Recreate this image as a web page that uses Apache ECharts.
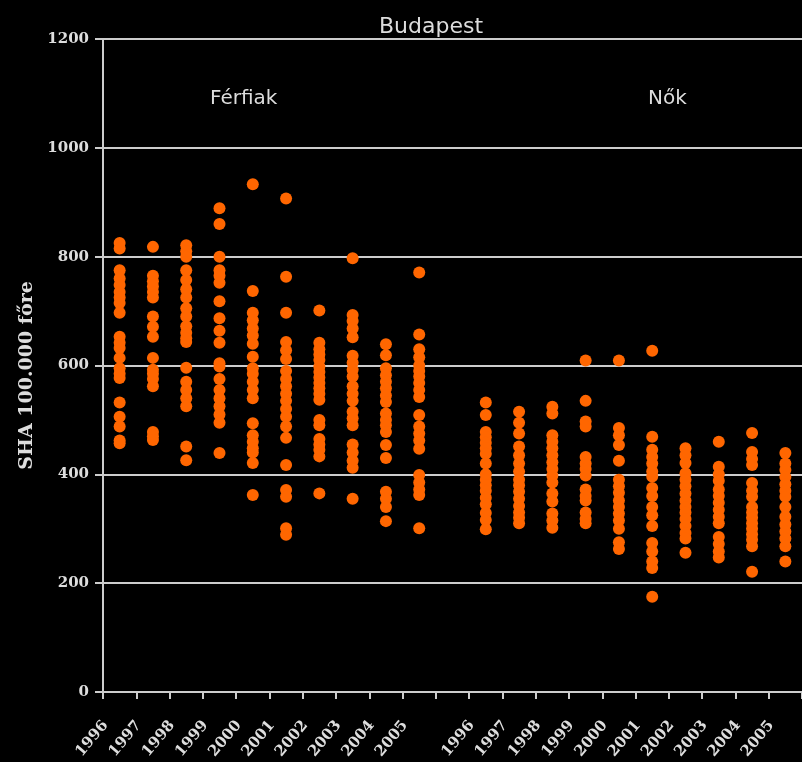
<!DOCTYPE html>
<html>
<head>
<meta charset="utf-8">
<script src="https://cdn.jsdelivr.net/npm/echarts@6/dist/echarts.min.js"></script>
<style>
  html, body { margin: 0; padding: 0; background: #000; }
  #main { width: 802px; height: 762px; }
</style>
</head>
<body>
<div id="main"></div>
<script>
// years on the axis: men block, an empty slot, women block
var years = ['1996', '1997', '1998', '1999', '2000', '2001', '2002', '2003', '2004', '2005'];
var categories = years.concat([''], years);
var yTicks = [0, 200, 400, 600, 800, 1000, 1200];

// Férfiak (men), one list per year, districts of Budapest
var men1996 = [825, 815, 775, 760, 748, 735, 725, 715, 697, 653, 642, 632, 614, 595, 585, 577, 532, 506, 488, 462, 457];
var men1997 = [818, 765, 755, 745, 735, 725, 690, 671, 653, 614, 592, 585, 575, 562, 478, 470, 463];
var men1998 = [821, 810, 800, 775, 757, 740, 725, 705, 690, 672, 660, 650, 643, 596, 570, 555, 540, 525, 451, 426];
var men1999 = [889, 860, 800, 775, 765, 752, 718, 687, 664, 642, 604, 598, 575, 555, 540, 525, 510, 495, 439];
var men2000 = [933, 737, 697, 683, 668, 655, 640, 616, 595, 585, 570, 555, 540, 494, 472, 460, 448, 440, 421, 362];
var men2001 = [907, 763, 697, 643, 628, 612, 590, 575, 562, 548, 535, 520, 506, 488, 467, 417, 371, 359, 301, 289];
var men2002 = [701, 642, 630, 620, 610, 598, 588, 578, 568, 558, 548, 537, 500, 490, 465, 455, 445, 433, 365];
var men2003 = [797, 693, 682, 668, 652, 618, 605, 592, 580, 562, 548, 535, 515, 503, 490, 455, 440, 425, 412, 355];
var men2004 = [639, 619, 595, 582, 570, 558, 545, 533, 512, 500, 490, 478, 454, 430, 368, 355, 340, 314];
var men2005 = [771, 657, 630, 615, 600, 590, 580, 568, 555, 542, 509, 488, 475, 462, 447, 399, 385, 372, 362, 301];

// Nők (women)
var women1996 = [532, 509, 478, 468, 458, 448, 438, 420, 400, 390, 380, 370, 357, 345, 329, 316, 299];
var women1997 = [515, 495, 475, 451, 435, 420, 405, 390, 380, 368, 355, 342, 330, 320, 310];
var women1998 = [524, 512, 472, 460, 448, 435, 422, 410, 398, 385, 365, 350, 328, 315, 302];
var women1999 = [609, 535, 497, 488, 432, 420, 410, 398, 372, 360, 352, 330, 318, 310];
var women2000 = [609, 485, 472, 454, 425, 390, 378, 366, 352, 340, 328, 315, 300, 275, 263];
var women2001 = [627, 469, 445, 432, 420, 405, 396, 375, 360, 340, 325, 305, 274, 258, 240, 228, 175];
var women2002 = [448, 435, 421, 402, 390, 378, 365, 352, 340, 330, 318, 305, 292, 282, 256];
var women2003 = [460, 414, 400, 388, 372, 360, 348, 335, 322, 310, 285, 272, 258, 247];
var women2004 = [476, 441, 428, 417, 384, 370, 359, 340, 330, 320, 310, 300, 290, 280, 268, 221];
var women2005 = [439, 420, 408, 395, 382, 370, 359, 340, 322, 308, 295, 282, 268, 240];

var men = [men1996, men1997, men1998, men1999, men2000, men2001, men2002, men2003, men2004, men2005];
var women = [women1996, women1997, women1998, women1999, women2000, women2001, women2002, women2003, women2004, women2005];

function toPoints(groups, offset) {
    var pts = [];
    groups.forEach(function (vals, i) {
        vals.forEach(function (v) { pts.push([i + offset, v]); });
    });
    return pts;
}

var myChart = echarts.init(document.getElementById('main'));

var labelFont = { color: '#dddddd', fontFamily: 'DejaVu Serif', fontWeight: 'bold', fontSize: 15 };
var textFont = { color: '#dddddd', fontFamily: 'DejaVu Sans', fontWeight: 'normal' };

var option = {
    backgroundColor: '#000000',
    animation: false,
    title: [
        { text: 'Budapest', left: 374, top: 11, textStyle: Object.assign({ fontSize: 22 }, textFont) },
        { text: 'Férfiak', left: 205, top: 84, textStyle: Object.assign({ fontSize: 20 }, textFont) },
        { text: 'Nők', left: 643, top: 84, textStyle: Object.assign({ fontSize: 20 }, textFont) }
    ],
    grid: { left: 103, top: 39, bottom: 70, width: 712, containLabel: false },
    xAxis: {
        type: 'category',
        data: categories,
        boundaryGap: true,
        axisLine: { lineStyle: { color: '#cccccc', width: 2 } },
        axisTick: { show: true, length: 7, lineStyle: { color: '#cccccc', width: 2 } },
        axisLabel: Object.assign({ rotate: 50, interval: 0, margin: 14, padding: [0, 22, 0, 0] }, labelFont),
        splitLine: { show: false }
    },
    yAxis: {
        type: 'value',
        min: yTicks[0],
        max: yTicks[yTicks.length - 1],
        interval: 200,
        name: 'SHA 100.000 főre',
        nameLocation: 'middle',
        nameGap: 66,
        nameTextStyle: { color: '#dddddd', fontFamily: 'DejaVu Serif', fontWeight: 'bold', fontSize: 19, padding: [0, 20, 0, 0] },
        axisLine: { show: true, lineStyle: { color: '#cccccc', width: 2 } },
        axisTick: { show: true, length: 8, lineStyle: { color: '#cccccc', width: 2 } },
        axisLabel: Object.assign({ margin: 14, formatter: function (v) { return String(v); } }, labelFont),
        splitLine: { show: true, lineStyle: { color: '#cccccc', width: 2 } }
    },
    series: [
        {
            name: 'Férfiak',
            type: 'scatter',
            symbol: 'circle',
            symbolSize: 12,
            itemStyle: { color: '#ff6600', opacity: 1 },
            data: toPoints(men, 0)
        },
        {
            name: 'Nők',
            type: 'scatter',
            symbol: 'circle',
            symbolSize: 12,
            itemStyle: { color: '#ff6600', opacity: 1 },
            data: toPoints(women, 11)
        }
    ]
};

myChart.setOption(option);
</script>
</body>
</html>
